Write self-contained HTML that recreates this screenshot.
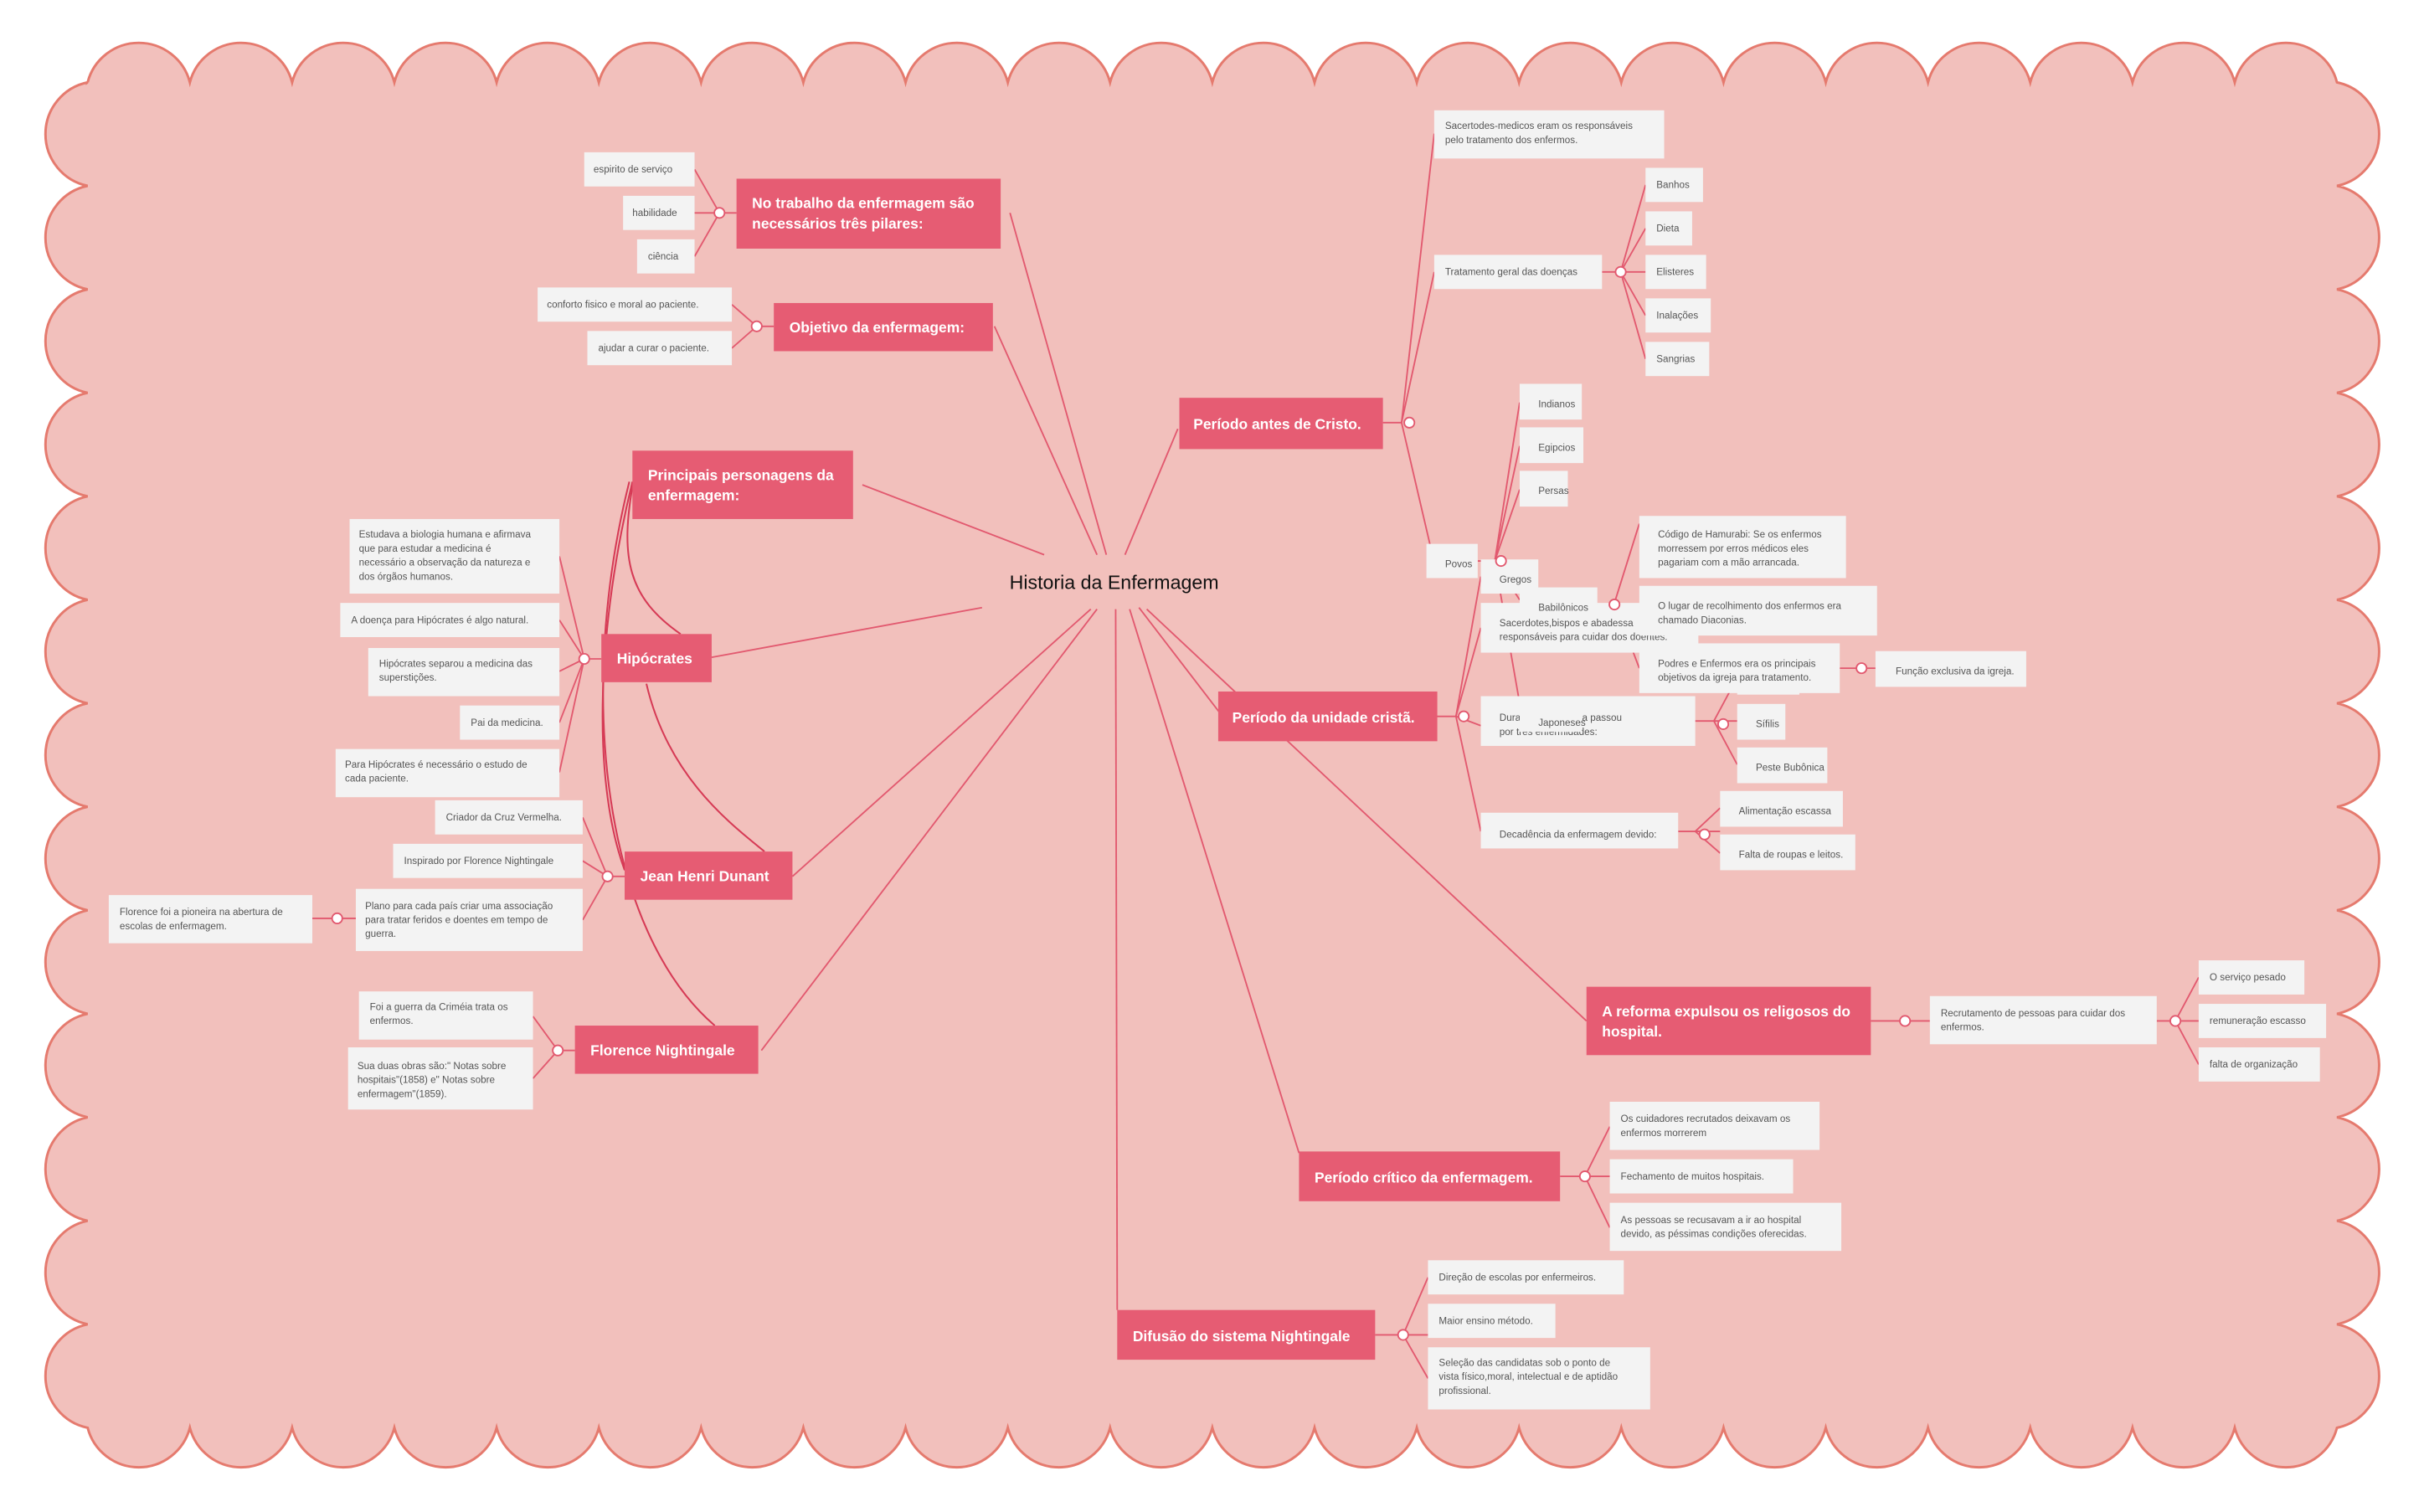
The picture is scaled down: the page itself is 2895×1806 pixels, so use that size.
<!DOCTYPE html>
<html><head><meta charset="utf-8"><style>
html,body{margin:0;padding:0;background:#fff;}
svg{display:block;}
.m{font-family:"Liberation Sans",sans-serif;font-weight:bold;font-size:9.4px;fill:#fff;}
.l{font-family:"Liberation Sans",sans-serif;font-size:6.3px;fill:#555;}
.lr{fill:#f3f3f3;}
.mr{fill:#e65c73;}
.c{stroke:#e2596f;stroke-width:1;fill:none;}
.d{stroke:#d63a55;stroke-width:1.1;fill:none;}
.o{fill:#fff;stroke:#e2596f;stroke-width:1;}
</style></head><body>
<svg width="2895" height="1806" viewBox="0 0 1560 973" preserveAspectRatio="none" xmlns="http://www.w3.org/2000/svg">
<rect width="1560" height="973" fill="#fff"/>
<path fill="#f2c0bc" stroke="#e57a6e" stroke-width="1.6" d="M56.4,53
a34 34 0 0 1 65.8 0a34 34 0 0 1 65.8 0a34 34 0 0 1 65.8 0a34 34 0 0 1 65.8 0a34 34 0 0 1 65.8 0a34 34 0 0 1 65.8 0a34 34 0 0 1 65.8 0a34 34 0 0 1 65.8 0a34 34 0 0 1 65.8 0a34 34 0 0 1 65.8 0a34 34 0 0 1 65.8 0
a34 34 0 0 1 65.8 0a34 34 0 0 1 65.8 0a34 34 0 0 1 65.8 0a34 34 0 0 1 65.8 0a34 34 0 0 1 65.8 0a34 34 0 0 1 65.8 0a34 34 0 0 1 65.8 0a34 34 0 0 1 65.8 0a34 34 0 0 1 65.8 0a34 34 0 0 1 65.8 0a34 34 0 0 1 65.8 0
a34 34 0 0 1 0 66.6a34 34 0 0 1 0 66.6a34 34 0 0 1 0 66.6a34 34 0 0 1 0 66.6a34 34 0 0 1 0 66.6a34 34 0 0 1 0 66.6a34 34 0 0 1 0 66.6a34 34 0 0 1 0 66.6a34 34 0 0 1 0 66.6a34 34 0 0 1 0 66.6a34 34 0 0 1 0 66.6a34 34 0 0 1 0 66.6a34 34 0 0 1 0 66.6
a34 34 0 0 1 -65.8 0a34 34 0 0 1 -65.8 0a34 34 0 0 1 -65.8 0a34 34 0 0 1 -65.8 0a34 34 0 0 1 -65.8 0a34 34 0 0 1 -65.8 0a34 34 0 0 1 -65.8 0a34 34 0 0 1 -65.8 0a34 34 0 0 1 -65.8 0a34 34 0 0 1 -65.8 0a34 34 0 0 1 -65.8 0
a34 34 0 0 1 -65.8 0a34 34 0 0 1 -65.8 0a34 34 0 0 1 -65.8 0a34 34 0 0 1 -65.8 0a34 34 0 0 1 -65.8 0a34 34 0 0 1 -65.8 0a34 34 0 0 1 -65.8 0a34 34 0 0 1 -65.8 0a34 34 0 0 1 -65.8 0a34 34 0 0 1 -65.8 0a34 34 0 0 1 -65.8 0
a34 34 0 0 1 0 -66.6a34 34 0 0 1 0 -66.6a34 34 0 0 1 0 -66.6a34 34 0 0 1 0 -66.6a34 34 0 0 1 0 -66.6a34 34 0 0 1 0 -66.6a34 34 0 0 1 0 -66.6a34 34 0 0 1 0 -66.6a34 34 0 0 1 0 -66.6a34 34 0 0 1 0 -66.6a34 34 0 0 1 0 -66.6a34 34 0 0 1 0 -66.6a34 34 0 0 1 0 -66.6Z"/>

<g class="c">
<line x1="712" y1="357" x2="650" y2="137"/>
<line x1="706" y1="357" x2="640" y2="210"/>
<line x1="672" y1="357" x2="555" y2="312"/>
<line x1="724" y1="357" x2="758" y2="276"/>
<line x1="632" y1="391" x2="458" y2="423"/>
<line x1="702" y1="392" x2="510" y2="564"/>
<line x1="706" y1="392" x2="490" y2="676"/>
<line x1="733" y1="391" x2="786" y2="460"/>
<line x1="738" y1="392" x2="1021" y2="657"/>
<line x1="727" y1="392" x2="836" y2="742"/>
<line x1="718" y1="392" x2="719" y2="843"/>
</g>
<g class="d">
<path d="M408,308 C398,360 405,385 438,408"/>
<path d="M416,440 C430,500 470,530 492,548"/>
<path d="M407,310 C385,400 380,500 402,560"/>
<path d="M405,310 C370,450 390,600 460,660"/>
</g>

<g class="c">
<line x1="474" y1="137" x2="463" y2="137"/><line x1="463" y1="137" x2="447" y2="109"/><line x1="463" y1="137" x2="447" y2="137"/><line x1="463" y1="137" x2="447" y2="165"/>
<line x1="498" y1="210" x2="487" y2="210"/><line x1="487" y1="210" x2="471" y2="196"/><line x1="487" y1="210" x2="471" y2="224"/>
<line x1="387" y1="424" x2="376" y2="424"/><line x1="376" y1="424" x2="360" y2="358"/><line x1="376" y1="424" x2="360" y2="399"/><line x1="376" y1="424" x2="360" y2="432"/><line x1="376" y1="424" x2="360" y2="465"/><line x1="376" y1="424" x2="360" y2="497"/>
<line x1="402" y1="564" x2="391" y2="564"/><line x1="391" y1="564" x2="375" y2="526"/><line x1="391" y1="564" x2="375" y2="554"/><line x1="391" y1="564" x2="375" y2="592"/>
<line x1="229" y1="591" x2="201" y2="591"/>
<line x1="370" y1="676" x2="359" y2="676"/><line x1="359" y1="676" x2="343" y2="654"/><line x1="359" y1="676" x2="343" y2="694"/>
<line x1="890" y1="272" x2="902" y2="272"/><line x1="902" y1="272" x2="923" y2="86"/><line x1="902" y1="272" x2="923" y2="175"/><line x1="902" y1="272" x2="923" y2="362"/>
<line x1="1031" y1="175" x2="1043" y2="175"/><line x1="1043" y1="175" x2="1059" y2="119"/><line x1="1043" y1="175" x2="1059" y2="147"/><line x1="1043" y1="175" x2="1059" y2="175"/><line x1="1043" y1="175" x2="1059" y2="203"/><line x1="1043" y1="175" x2="1059" y2="231"/>
<line x1="951" y1="361" x2="962" y2="361"/><line x1="962" y1="361" x2="978" y2="259"/><line x1="962" y1="361" x2="978" y2="287"/><line x1="962" y1="361" x2="978" y2="315"/><line x1="962" y1="361" x2="978" y2="386"/><line x1="962" y1="361" x2="980" y2="464"/>
<line x1="920" y1="461" x2="937" y2="461"/><line x1="937" y1="461" x2="953" y2="371"/><line x1="937" y1="461" x2="953" y2="404"/><line x1="937" y1="461" x2="953" y2="467"/><line x1="937" y1="461" x2="953" y2="535"/>
<line x1="1028" y1="392" x2="1039" y2="388"/><line x1="1039" y1="388" x2="1055" y2="337"/><line x1="1039" y1="388" x2="1055" y2="393"/><line x1="1039" y1="388" x2="1055" y2="430"/>
<line x1="1184" y1="430" x2="1207" y2="430"/>
<line x1="1091" y1="464" x2="1118" y2="464"/><line x1="1103" y1="464" x2="1118" y2="436"/><line x1="1103" y1="464" x2="1118" y2="492"/>
<line x1="1080" y1="535" x2="1107" y2="535"/><line x1="1091" y1="535" x2="1107" y2="520"/><line x1="1091" y1="535" x2="1107" y2="549"/>
<line x1="1204" y1="657" x2="1242" y2="657"/>
<line x1="1388" y1="657" x2="1415" y2="657"/><line x1="1400" y1="657" x2="1415" y2="629"/><line x1="1400" y1="657" x2="1415" y2="685"/>
<line x1="1004" y1="757" x2="1036" y2="757"/><line x1="1020" y1="757" x2="1036" y2="725"/><line x1="1020" y1="757" x2="1036" y2="790"/>
<line x1="885" y1="859" x2="919" y2="859"/><line x1="903" y1="859" x2="919" y2="822"/><line x1="903" y1="859" x2="919" y2="887"/>
</g>

<text x="717" y="379" text-anchor="middle" font-family="Liberation Sans, sans-serif" font-size="12.5" fill="#111">Historia da Enfermagem</text>

<rect class="mr" x="474" y="115" width="170" height="45"/><text class="m" x="484" y="134">No trabalho da enfermagem são</text><text class="m" x="484" y="147">necessários três pilares:</text>
<rect class="mr" x="498" y="195" width="141" height="31"/><text class="m" x="508" y="214">Objetivo da enfermagem:</text>
<rect class="mr" x="407" y="290" width="142" height="44"/><text class="m" x="417" y="309">Principais personagens da</text><text class="m" x="417" y="322">enfermagem:</text>
<rect class="mr" x="387" y="408" width="71" height="31"/><text class="m" x="397" y="427">Hipócrates</text>
<rect class="mr" x="402" y="548" width="108" height="31"/><text class="m" x="412" y="567">Jean Henri Dunant</text>
<rect class="mr" x="370" y="660" width="118" height="31"/><text class="m" x="380" y="679">Florence Nightingale</text>
<rect class="mr" x="759" y="256" width="131" height="33"/><text class="m" x="768" y="276">Período antes de Cristo.</text>
<rect class="mr" x="784" y="445" width="141" height="32"/><text class="m" x="793" y="465">Período da unidade cristã.</text>
<rect class="mr" x="1021" y="635" width="183" height="44"/><text class="m" x="1031" y="654">A reforma expulsou os religosos do</text><text class="m" x="1031" y="667">hospital.</text>
<rect class="mr" x="836" y="741" width="168" height="32"/><text class="m" x="846" y="761">Período crítico da enfermagem.</text>
<rect class="mr" x="719" y="843" width="166" height="32"/><text class="m" x="729" y="863">Difusão do sistema Nightingale</text>

<g>
<rect class="lr" x="376" y="98" width="71" height="22"/><text class="l" x="382" y="111">espirito de serviço</text>
<rect class="lr" x="401" y="126" width="46" height="22"/><text class="l" x="407" y="139">habilidade</text>
<rect class="lr" x="410" y="154" width="37" height="22"/><text class="l" x="417" y="167">ciência</text>
<rect class="lr" x="346" y="185" width="125" height="22"/><text class="l" x="352" y="198">conforto fisico e moral ao paciente.</text>
<rect class="lr" x="378" y="213" width="93" height="22"/><text class="l" x="385" y="226">ajudar a curar o paciente.</text>

<rect class="lr" x="225" y="334" width="135" height="48"/><text class="l" x="231" y="346">Estudava a biologia humana e afirmava</text><text class="l" x="231" y="355">que para estudar a medicina é</text><text class="l" x="231" y="364">necessário a observação da natureza e</text><text class="l" x="231" y="373">dos órgãos humanos.</text>
<rect class="lr" x="219" y="388" width="141" height="22"/><text class="l" x="226" y="401">A doença para Hipócrates é algo natural.</text>
<rect class="lr" x="237" y="417" width="123" height="31"/><text class="l" x="244" y="429">Hipócrates separou a medicina das</text><text class="l" x="244" y="438">superstições.</text>
<rect class="lr" x="296" y="454" width="64" height="22"/><text class="l" x="303" y="467">Pai da medicina.</text>
<rect class="lr" x="216" y="482" width="144" height="31"/><text class="l" x="222" y="494">Para Hipócrates é necessário o estudo de</text><text class="l" x="222" y="503">cada paciente.</text>

<rect class="lr" x="280" y="515" width="95" height="22"/><text class="l" x="287" y="528">Criador da Cruz Vermelha.</text>
<rect class="lr" x="253" y="543" width="122" height="22"/><text class="l" x="260" y="556">Inspirado por Florence Nightingale</text>
<rect class="lr" x="229" y="572" width="146" height="40"/><text class="l" x="235" y="585">Plano para cada país criar uma associação</text><text class="l" x="235" y="594">para tratar feridos e doentes em tempo de</text><text class="l" x="235" y="603">guerra.</text>
<rect class="lr" x="70" y="576" width="131" height="31"/><text class="l" x="77" y="589">Florence foi a pioneira na abertura de</text><text class="l" x="77" y="598">escolas de enfermagem.</text>

<rect class="lr" x="231" y="638" width="112" height="31"/><text class="l" x="238" y="650">Foi a guerra da Criméia trata os</text><text class="l" x="238" y="659">enfermos.</text>
<rect class="lr" x="224" y="674" width="119" height="40"/><text class="l" x="230" y="688">Sua duas obras são:" Notas sobre</text><text class="l" x="230" y="697">hospitais"(1858) e" Notas sobre</text><text class="l" x="230" y="706">enfermagem"(1859).</text>

<rect class="lr" x="923" y="71" width="148" height="31"/><text class="l" x="930" y="83">Sacertodes-medicos eram os responsáveis</text><text class="l" x="930" y="92">pelo tratamento dos enfermos.</text>
<rect class="lr" x="923" y="164" width="108" height="22"/><text class="l" x="930" y="177">Tratamento geral das doenças</text>
<rect class="lr" x="1059" y="108" width="37" height="22"/><text class="l" x="1066" y="121">Banhos</text>
<rect class="lr" x="1059" y="136" width="30" height="22"/><text class="l" x="1066" y="149">Dieta</text>
<rect class="lr" x="1059" y="164" width="39" height="22"/><text class="l" x="1066" y="177">Elisteres</text>
<rect class="lr" x="1059" y="192" width="42" height="22"/><text class="l" x="1066" y="205">Inalações</text>
<rect class="lr" x="1059" y="220" width="41" height="22"/><text class="l" x="1066" y="233">Sangrias</text>
<rect class="lr" x="918" y="350" width="33" height="22"/><text class="l" x="930" y="365">Povos</text>
<rect class="lr" x="978" y="247" width="40" height="23"/><text class="l" x="990" y="262">Indianos</text>
<rect class="lr" x="978" y="275" width="41" height="23"/><text class="l" x="990" y="290">Egipcios</text>
<rect class="lr" x="978" y="303" width="31" height="23"/><text class="l" x="990" y="318">Persas</text>

<rect class="lr" x="953" y="388" width="140" height="32"/><text class="l" x="965" y="403">Sacerdotes,bispos e abadessa</text><text class="l" x="965" y="412">responsáveis para cuidar dos doentes.</text>
<rect class="lr" x="953" y="448" width="138" height="32"/><text class="l" x="965" y="464">Durante ... a historia passou</text><text class="l" x="965" y="473">por três enfermidades:</text>
<rect class="lr" x="953" y="523" width="127" height="23"/><text class="l" x="965" y="539">Decadência da enfermagem devido:</text>
<rect class="lr" x="953" y="360" width="37" height="22"/><text class="l" x="965" y="375">Gregos</text>
<rect class="lr" x="978" y="378" width="50" height="12"/><text class="l" x="990" y="393">Babilônicos</text>
<rect class="lr" x="978" y="455" width="40" height="16"/><text class="l" x="990" y="467">Japoneses</text>
<rect class="lr" x="1118" y="425" width="40" height="22"/>
<rect class="lr" x="1055" y="332" width="133" height="40"/><text class="l" x="1067" y="346">Código de Hamurabi: Se os enfermos</text><text class="l" x="1067" y="355">morressem por erros médicos eles</text><text class="l" x="1067" y="364">pagariam com a mão arrancada.</text>
<rect class="lr" x="1055" y="377" width="153" height="32"/><text class="l" x="1067" y="392">O lugar de recolhimento dos enfermos era</text><text class="l" x="1067" y="401">chamado Diaconias.</text>
<rect class="lr" x="1055" y="414" width="129" height="32"/><text class="l" x="1067" y="429">Podres e Enfermos era os principais</text><text class="l" x="1067" y="438">objetivos da igreja para tratamento.</text>
<rect class="lr" x="1207" y="419" width="97" height="23"/><text class="l" x="1220" y="434">Função exclusiva da igreja.</text>
<rect class="lr" x="1118" y="453" width="31" height="23"/><text class="l" x="1130" y="468">Sífilis</text>
<rect class="lr" x="1118" y="481" width="58" height="23"/><text class="l" x="1130" y="496">Peste Bubônica</text>
<rect class="lr" x="1107" y="509" width="79" height="23"/><text class="l" x="1119" y="524">Alimentação escassa</text>
<rect class="lr" x="1107" y="537" width="87" height="23"/><text class="l" x="1119" y="552">Falta de roupas e leitos.</text>

<rect class="lr" x="1242" y="641" width="146" height="31"/><text class="l" x="1249" y="654">Recrutamento de pessoas para cuidar dos</text><text class="l" x="1249" y="663">enfermos.</text>
<rect class="lr" x="1415" y="618" width="68" height="22"/><text class="l" x="1422" y="631">O serviço pesado</text>
<rect class="lr" x="1415" y="646" width="82" height="22"/><text class="l" x="1422" y="659">remuneração escasso</text>
<rect class="lr" x="1415" y="674" width="78" height="22"/><text class="l" x="1422" y="687">falta de organização</text>

<rect class="lr" x="1036" y="709" width="135" height="31"/><text class="l" x="1043" y="722">Os cuidadores recrutados deixavam os</text><text class="l" x="1043" y="731">enfermos morrerem</text>
<rect class="lr" x="1036" y="746" width="118" height="22"/><text class="l" x="1043" y="759">Fechamento de muitos hospitais.</text>
<rect class="lr" x="1036" y="774" width="149" height="31"/><text class="l" x="1043" y="787">As pessoas se recusavam a ir ao hospital</text><text class="l" x="1043" y="796">devido, as péssimas  condições oferecidas.</text>

<rect class="lr" x="919" y="811" width="126" height="22"/><text class="l" x="926" y="824">Direção de escolas por enfermeiros.</text>
<rect class="lr" x="919" y="839" width="82" height="22"/><text class="l" x="926" y="852">Maior ensino método.</text>
<rect class="lr" x="919" y="867" width="143" height="40"/><text class="l" x="926" y="879">Seleção das candidatas sob o ponto de</text><text class="l" x="926" y="888">vista físico,moral, intelectual e de aptidão</text><text class="l" x="926" y="897">profissional.</text>
</g>

<g class="o">
<circle cx="463" cy="137" r="3.3"/><circle cx="487" cy="210" r="3.3"/><circle cx="376" cy="424" r="3.3"/><circle cx="391" cy="564" r="3.3"/><circle cx="217" cy="591" r="3.3"/><circle cx="359" cy="676" r="3.3"/>
<circle cx="907" cy="272" r="3.3"/><circle cx="1043" cy="175" r="3.3"/><circle cx="966" cy="361" r="3.3"/><circle cx="942" cy="461" r="3.3"/><circle cx="1039" cy="389" r="3.3"/><circle cx="1198" cy="430" r="3.3"/><circle cx="1109" cy="466" r="3.3"/><circle cx="1097" cy="537" r="3.3"/>
<circle cx="1226" cy="657" r="3.3"/><circle cx="1400" cy="657" r="3.3"/><circle cx="1020" cy="757" r="3.3"/><circle cx="903" cy="859" r="3.3"/>
</g>
</svg>
</body></html>
